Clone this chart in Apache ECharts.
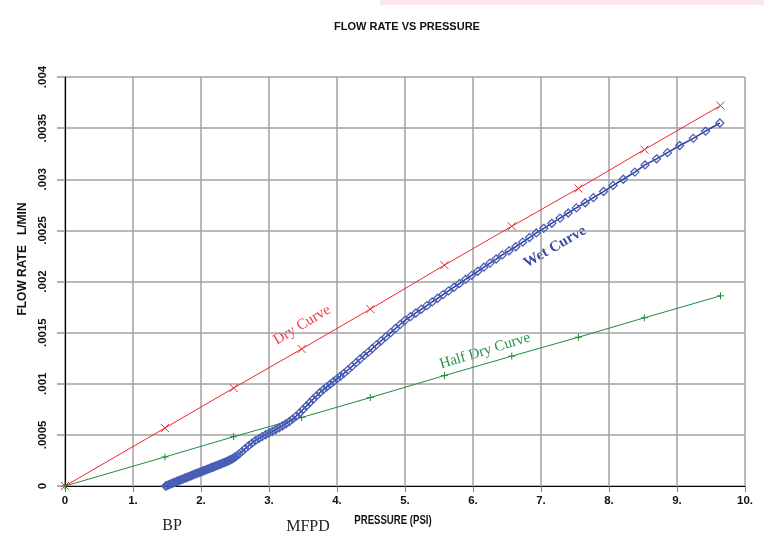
<!DOCTYPE html>
<html>
<head>
<meta charset="utf-8">
<script src="https://cdn.jsdelivr.net/npm/echarts@6/dist/echarts.min.js"></script>
<style>
html,body{margin:0;padding:0;background:#fff;}
#c{width:764px;height:546px;}
</style>
</head>
<body>
<div id="c"></div>
<script>
// ---- data ----
var xTickLabels = ['0','1.','2.','3.','4.','5.','6.','7.','8.','9.','10.'];
var yTickLabels = ['0','.0005','.001','.0015','.002','.0025','.003','.0035','.004'];

var dryX = [0, 1.47, 2.48, 3.48, 4.49, 5.58, 6.57, 7.55, 8.52, 9.64];
var dryY = [0, 0.000567, 0.000958, 0.00134, 0.00173, 0.00216, 0.00254, 0.00291, 0.00329, 0.00372];

var halfDryX = [0, 1.47, 2.48, 3.48, 4.49, 5.58, 6.57, 7.55, 8.52, 9.64];
var halfDryY = [0, 0.000284, 0.000482, 0.00067, 0.000865, 0.00108, 0.00127, 0.001455, 0.001645, 0.00186];

var wetX = [
  1.48,1.50,1.52,1.54,1.56,1.58,1.60,1.62,1.64,1.66,
  1.68,1.70,1.72,1.74,1.76,1.78,1.80,1.82,1.84,1.86,
  1.88,1.90,1.92,1.94,1.96,1.98,2.00,2.02,2.04,2.06,
  2.08,2.10,2.12,2.14,2.16,2.18,2.20,2.22,2.24,2.26,
  2.28,2.30,2.32,2.34,2.36,2.38,2.40,2.42,2.44,2.46,
  2.48,2.50,2.52,2.56,2.60,2.65,2.70,2.75,2.80,2.85,
  2.90,2.95,3.00,3.05,3.10,3.15,3.20,3.25,3.30,3.35,
  3.40,3.45,3.50,3.55,3.60,3.65,3.70,3.75,3.80,3.85,
  3.90,3.95,4.00,4.05,4.10,4.16,4.22,4.28,4.34,4.40,
  4.46,4.52,4.58,4.65,4.72,4.79,4.86,4.93,5.00,5.08,
  5.16,5.24,5.32,5.40,5.48,5.56,5.64,5.72,5.80,5.89,
  5.98,6.07,6.16,6.25,6.34,6.43,6.53,6.63,6.73,6.83,
  6.93,7.04,7.16,7.28,7.40,7.52,7.65,7.77,7.92,8.06,
  8.21,8.38,8.53,8.70,8.86,9.04,9.24,9.42,9.63
];
var wetY = [
  0.000000,0.000005,0.000011,0.000016,0.000022,0.000027,0.000033,0.000038,0.000044,0.000049,
  0.000054,0.000060,0.000065,0.000070,0.000076,0.000081,0.000087,0.000092,0.000097,0.000103,
  0.000108,0.000113,0.000118,0.000124,0.000129,0.000134,0.000139,0.000144,0.000149,0.000155,
  0.000160,0.000165,0.000170,0.000176,0.000181,0.000186,0.000191,0.000197,0.000202,0.000207,
  0.000212,0.000218,0.000223,0.000228,0.000234,0.000240,0.000246,0.000252,0.000259,0.000266,
  0.000274,0.000283,0.000292,0.000313,0.000336,0.000366,0.000394,0.000420,0.000443,0.000464,
  0.000483,0.000501,0.000518,0.000535,0.000552,0.000570,0.000589,0.000609,0.000631,0.000656,
  0.000684,0.000715,0.000748,0.000782,0.000816,0.000850,0.000883,0.000914,0.000943,0.000970,
  0.000996,0.001022,0.001048,0.001074,0.001101,0.001135,0.001170,0.001206,0.001242,0.001277,
  0.001309,0.001345,0.001380,0.001420,0.001460,0.001500,0.001540,0.001580,0.001620,0.001656,
  0.001692,0.001728,0.001764,0.001800,0.001836,0.001872,0.001908,0.001944,0.001980,0.002020,
  0.002060,0.002100,0.002140,0.002180,0.002220,0.002260,0.002300,0.002340,0.002385,0.002430,
  0.002475,0.002520,0.002570,0.002620,0.002670,0.002720,0.002770,0.002820,0.002880,0.002940,
  0.003000,0.003070,0.003140,0.003200,0.003260,0.003330,0.003400,0.003470,0.003550
];

function pairs(xs, ys){ var out=[]; for (var i=0;i<xs.length;i++) out.push([xs[i], ys[i]]); return out; }

var narrow = "'Liberation Sans Narrow','Liberation Sans',Arial,sans-serif";
var sans = "'Liberation Sans',Arial,sans-serif";
var serif = "'Liberation Serif','Times New Roman',serif";

var chart = echarts.init(document.getElementById('c'), null, {renderer:'canvas'});
chart.setOption({
  animation: false,
  backgroundColor: '#ffffff',
  title: {
    text: 'FLOW RATE VS PRESSURE',
    left: 402, top: 16, textAlign: 'center',
    textStyle: {fontFamily: sans, fontSize: 11, fontWeight: 'bold', color: '#111'}
  },
  grid: {left: 65, right: 19, top: 77, bottom: 60, containLabel: false},
  xAxis: {
    type: 'value', min: 0, max: 10, interval: 1,
    axisLine: {show: true, onZero: false, lineStyle: {color: '#000', width: 1.2}},
    axisTick: {show: true, length: 6, lineStyle: {color: '#777', width: 1}},
    splitLine: {show: true, lineStyle: {color: '#a3a3a3', width: 1.5}},
    axisLabel: {
      margin: 9, color: '#111', fontFamily: narrow, fontWeight: 'bold', fontSize: 11.5,
      formatter: function(v){ return xTickLabels[Math.round(v)]; }
    }
  },
  yAxis: {
    type: 'value', min: 0, max: 0.004, interval: 0.0005,
    axisLine: {show: true, onZero: false, lineStyle: {color: '#000', width: 1.2}},
    axisTick: {show: true, length: 8, lineStyle: {color: '#999', width: 1.5}},
    splitLine: {show: true, lineStyle: {color: '#a3a3a3', width: 1.5}},
    axisLabel: {
      rotate: 90, margin: 16, color: '#111', fontFamily: narrow, fontWeight: 'bold', fontSize: 11.5,
      formatter: function(v){ return yTickLabels[Math.round(v / 0.0005)]; }
    }
  },
  series: [
    {
      name: 'Dry Curve', type: 'line', data: pairs(dryX, dryY),
      symbol: 'path://M0,0L10,10M10,0L0,10', symbolSize: 8, showSymbol: true,
      lineStyle: {color: '#f0262e', width: 1},
      itemStyle: {color: 'rgba(0,0,0,0)', borderColor: '#f0262e', borderWidth: 1}
    },
    {
      name: 'Half Dry Curve', type: 'line', data: pairs(halfDryX, halfDryY),
      symbol: 'path://M5,0L5,10M0,5L10,5', symbolSize: 7, showSymbol: true,
      lineStyle: {color: '#1f8a3c', width: 1},
      itemStyle: {color: 'rgba(0,0,0,0)', borderColor: '#1f8a3c', borderWidth: 1}
    },
    {
      name: 'Wet Curve', type: 'line', data: pairs(wetX, wetY),
      symbol: 'diamond', symbolSize: 8, showSymbol: true,
      lineStyle: {color: '#2a3c98', width: 1.5},
      itemStyle: {color: 'rgba(0,0,0,0)', borderColor: '#4a5eb6', borderWidth: 1.3}
    }
  ],
  graphic: [
    {type: 'rect', left: 380, top: 0, shape: {width: 384, height: 5}, style: {fill: '#fbe6e8'}, silent: true},
    {type: 'text', x: 23, y: 259, rotation: Math.PI/2,
      style: {text: 'FLOW RATE   L/MIN', font: "bold 12px " + sans, fill: '#111', align: 'center', verticalAlign: 'middle'}},
    {type: 'text', x: 393, y: 521, scaleX: 0.8,
      style: {text: 'PRESSURE (PSI)', font: "bold 12px " + sans, fill: '#111', align: 'center', verticalAlign: 'middle'}},
    {type: 'text', x: 172, y: 526,
      style: {text: 'BP', font: "16px " + serif, fill: '#222', align: 'center', verticalAlign: 'middle'}},
    {type: 'text', x: 308, y: 527,
      style: {text: 'MFPD', font: "16px " + serif, fill: '#222', align: 'center', verticalAlign: 'middle'}},
    {type: 'text', x: 302, y: 325, rotation: 31 * Math.PI / 180,
      style: {text: 'Dry Curve', font: "15px " + serif, fill: '#ee3a44', align: 'center', verticalAlign: 'middle'}},
    {type: 'text', x: 555, y: 247, rotation: 30 * Math.PI / 180,
      style: {text: 'Wet Curve', font: "bold 15px " + serif, fill: '#3b4ba3', align: 'center', verticalAlign: 'middle'}},
    {type: 'text', x: 485, y: 351, rotation: 17 * Math.PI / 180,
      style: {text: 'Half Dry Curve', font: "15px " + serif, fill: '#279449', align: 'center', verticalAlign: 'middle'}}
  ]
});
</script>
</body>
</html>
